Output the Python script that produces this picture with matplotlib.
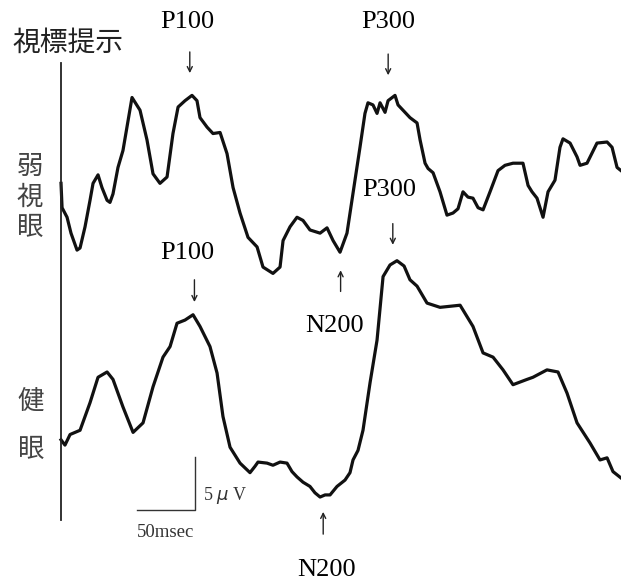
import numpy as np
import matplotlib.pyplot as plt

# 弱視眼 (upper trace): time in msec after stimulus, amplitude in uV
t_weak = [0, 0.9, 5.2, 8.6, 13.8, 16.4, 20.7, 25.0, 27.6, 31.9, 35.3, 39.7, 42.2, 44.8, 49.1,
          53.4, 61.2, 68.1, 74.1, 79.3, 85.3, 91.4, 96.5, 100.9, 106.9, 112.9, 117.2, 119.8,
          125.9, 131.0, 137.1, 143.1, 148.3, 154.3, 161.2, 169.0, 174.1, 182.7, 188.8, 191.4,
          197.4, 203.4, 208.6, 214.6, 223.3, 229.3, 234.5, 240.5, 246.5, 253.4, 257.7, 262.0,
          264.6, 268.9, 272.4, 275.0, 279.3, 281.9, 287.9, 290.5, 294.8, 300.8, 306.9, 309.5,
          313.8, 316.4, 320.7, 326.7, 332.7, 337.9, 342.2, 346.5, 350.8, 355.1, 359.5, 363.8,
          369.8, 376.7, 382.7, 389.6, 398.2, 402.6, 406.0, 410.3, 415.5, 419.8, 425.8, 430.1,
          432.7, 438.8, 444.8, 447.4, 453.4, 462.0, 470.7, 475.0, 479.3, 482.7]
v_weak = [0, -2.3, -3.2, -4.7, -6.3, -6.1, -4.1, -1.6, 0.0, 0.8, -0.4, -1.6, -1.8, -1.0, 1.5,
          3.1, 8.1, 6.9, 4.1, 0.9, 0.0, 0.6, 4.7, 7.2, 7.8, 8.3, 7.8, 6.2,
          5.3, 4.7, 4.8, 2.8, -0.4, -2.8, -5.1, -6.0, -7.9, -8.5, -7.9, -5.4,
          -4.1, -3.2, -3.5, -4.4, -4.7, -4.2, -5.4, -6.5, -4.7, 0.3, 3.4, 6.6,
          7.6, 7.4, 6.6, 7.6, 6.7, 7.8, 8.3, 7.4, 6.9, 6.2, 5.7, 4.1,
          1.9, 1.4, 1.0, -0.8, -3.0, -2.8, -2.4, -0.8, -1.3, -1.4, -2.3, -2.5,
          -0.8, 1.2, 1.7, 1.9, 1.9, -0.2, -0.8, -1.4, -3.2, -0.8, 0.3, 3.4,
          4.2, 3.8, 2.5, 1.7, 1.9, 3.8, 3.9, 3.4, 1.5, 1.2]

# 健眼 (lower trace)
t_good = [0, 3.4, 7.8, 16.4, 25.0, 31.9, 39.7, 44.8, 53.4, 62.1, 70.7, 79.3, 87.9, 94.0,
          100.0, 106.9, 113.8, 119.8, 128.4, 134.5, 139.6, 145.7, 154.3, 162.9, 167.2, 169.8,
          177.6, 182.7, 188.8, 194.8, 199.1, 203.4, 208.6, 214.6, 218.9, 223.3, 227.6, 231.9,
          237.9, 244.8, 249.1, 251.7, 256.0, 260.3, 266.4, 272.4, 277.6, 283.6, 289.6, 295.7,
          300.8, 306.9, 315.5, 326.7, 344.0, 355.1, 363.8, 372.4, 381.0, 389.6, 401.7, 406.8,
          418.9, 428.4, 436.2, 444.8, 456.0, 464.6, 470.7, 475.8, 482.7]
v_good = [0, -0.5, 0.5, 0.9, 3.5, 5.9, 6.4, 5.7, 3.1, 0.7, 1.6, 5.0, 7.8, 8.8,
          11.0, 11.3, 11.8, 10.7, 8.8, 6.3, 2.2, -0.7, -2.2, -3.1, -2.5, -2.1,
          -2.2, -2.4, -2.1, -2.2, -3.0, -3.5, -4.0, -4.4, -5.0, -5.4, -5.2, -5.2,
          -4.4, -3.8, -3.1, -1.9, -1.0, 0.9, 5.4, 9.4, 15.4, 16.5, 16.9, 16.4,
          15.1, 14.5, 12.9, 12.5, 12.7, 10.7, 8.2, 7.8, 6.6, 5.2, 5.7, 5.9,
          6.6, 6.4, 4.4, 1.6, -0.3, -1.9, -1.7, -3.0, -3.6]

peak_labels = ["P100", "P300", "N200"]
weak_offset = 24.2  # uV, vertical spacing between the two traces

serif = ["Liberation Serif", "DejaVu Serif"]
cjk = ["Noto Sans CJK JP", "DejaVu Sans"]

fig = plt.figure(figsize=(6.21, 5.85), dpi=100)
ax = fig.add_axes([0, 0, 1, 1])
ax.set_xlim(-52.6, 482.7)
ax.set_ylim(-13.7, 41.5)
ax.axis("off")

ax.plot(t_weak, np.array(v_weak) + weak_offset, color="#111111", lw=2.3, solid_joinstyle="round")
ax.plot(t_good, v_good, color="#111111", lw=2.3, solid_joinstyle="round")

# stimulus onset line
ax.plot([0, 0], [-7.6, 35.6], color="#222222", lw=1.3)
ax.text(-41.5, 37.5, "視標提示", family=cjk, fontsize=20, color="#222222", va="center", ha="left")

for i, ch in enumerate("弱視眼"):
    ax.text(-26.7, 41.5 - 167 * 0.0943 - i * 30.5 * 0.0943, ch, family=cjk, fontsize=19,
            color="#444444", ha="center", va="center")
for i, ch in enumerate("健眼"):
    ax.text(-26, 41.5 - 402 * 0.0943 - i * 48 * 0.0943, ch, family=cjk, fontsize=19,
            color="#444444", ha="center", va="center")

arrow = dict(arrowstyle="->", color="#222222", lw=1.0, shrinkA=0, shrinkB=0,
             mutation_scale=9)

# upper trace labels
ax.text(109, 39.4, peak_labels[0], family=serif, fontsize=19, ha="center", va="center")
ax.annotate("", xy=(111, 34.6), xytext=(111, 36.6), arrowprops=arrow)
ax.text(282, 39.4, peak_labels[1], family=serif, fontsize=19, ha="center", va="center")
ax.annotate("", xy=(282, 34.4), xytext=(282, 36.4), arrowprops=arrow)
ax.annotate("", xy=(241, 16.0), xytext=(241, 14.0), arrowprops=arrow)
ax.text(236, 10.7, peak_labels[2], family=serif, fontsize=19, ha="center", va="center")

# lower trace labels
ax.text(283, 23.6, peak_labels[1], family=serif, fontsize=19, ha="center", va="center")
ax.annotate("", xy=(286, 18.4), xytext=(286, 20.4), arrowprops=arrow)
ax.text(109, 17.6, peak_labels[0], family=serif, fontsize=19, ha="center", va="center")
ax.annotate("", xy=(115, 13.0), xytext=(115, 15.1), arrowprops=arrow)
ax.annotate("", xy=(226, -6.8), xytext=(226, -8.9), arrowprops=arrow)
ax.text(229, -12.3, peak_labels[2], family=serif, fontsize=19, ha="center", va="center")

# scale bar: 50 msec, 5 uV
ax.plot([65.5, 115.5, 115.5], [-6.6, -6.6, -1.6], color="#333333", lw=1.0)
ax.text(122, -5.3, "5 $\\mu$ V", family=serif, fontsize=13, ha="left", va="center", color="#333333")
ax.text(65.5, -8.7, "50msec", family=serif, fontsize=13.5, ha="left", va="center", color="#333333")

fig.savefig("out.png", dpi=100, facecolor="white")
